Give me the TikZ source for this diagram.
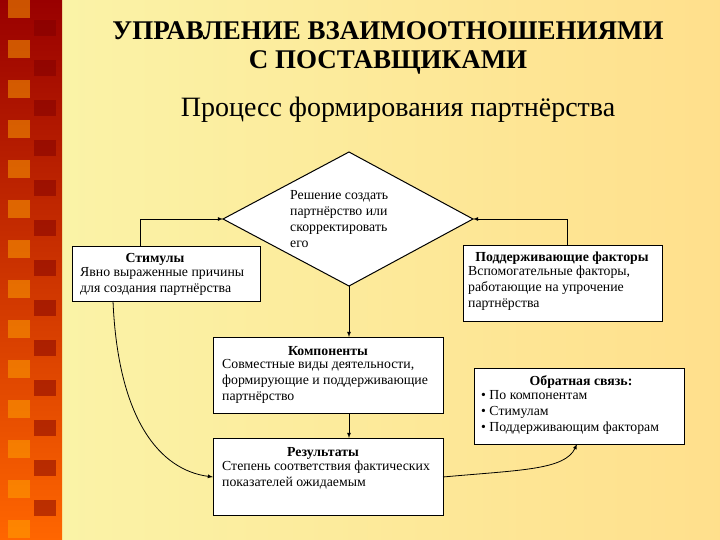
\documentclass[tikz,border=0pt]{standalone}
\usepackage{fontspec}
\setmainfont{Liberation Serif}
\begin{document}
\begin{tikzpicture}[x=1pt,y=-1pt,
  box/.style={draw=black,line width=1pt,fill=white},
  txt/.style={font=\fontsize{13.8}{16}\selectfont,align=left,inner sep=0},
  btxt/.style={font=\bfseries\fontsize{13.8}{16}\selectfont,inner sep=0},
  arr/.style={-{latex},line width=0.8pt}]
\useasboundingbox (0,0) rectangle (720,540);
\shade[left color=yellow!30!white!92!brown,right color=yellow!45!orange!45!white] (0,0) rectangle (720,540);
\shade[top color=red!60!black,bottom color=orange!80!red] (0,0) rectangle (62,540);
\foreach \y in {0,40,...,520}{\fill[orange!70!yellow,opacity=0.5] (8,\y) rectangle (30,\y+18);
 \fill[red!50!black,opacity=0.5] (34,\y+20) rectangle (56,\y+36);}
\node[font=\bfseries\fontsize{27}{30}\selectfont] (t1) at (388,31) {УПРАВЛЕНИЕ ВЗАИМООТНОШЕНИЯМИ};
\node[font=\bfseries\fontsize{27}{30}\selectfont] (t2) at (388,62) {С ПОСТАВЩИКАМИ};
\node[font=\fontsize{28}{32}\selectfont] (t3) at (398,110) {Процесс формирования партнёрства};
% diamond
\coordinate (dT) at (349,152); \coordinate (dL) at (223,219);
\coordinate (dR) at (473,219); \coordinate (dB) at (349,286);
\draw[box] (dT)--(dR)--(dB)--(dL)--cycle;
\node[txt,anchor=north west] (dtxt) at (290,190) {Решение создать\\партнёрство или\\скорректировать\\его};
% boxes
\draw[box] (72,246) rectangle (260,301); \coordinate (stTop) at (140,246); \coordinate (stBot) at (113,301);
\node[btxt] (st1) at (155,259) {Стимулы};
\node[txt,anchor=north west] (st2) at (80,267) {Явно выраженные причины\\для создания партнёрства};
\draw[box] (463,245) rectangle (662,321); \coordinate (spTop) at (567,245);
\node[btxt] (sp1) at (562,258) {Поддерживающие факторы};
\node[txt,anchor=north west] (sp2) at (468,266) {Вспомогательные факторы,\\работающие на упрочение\\партнёрства};
\draw[box] (213,337) rectangle (443,413); \coordinate (cT) at (349,337); \coordinate (cB) at (349,413);
\node[btxt] (c1) at (328,351) {Компоненты};
\node[txt,anchor=north west] (c2) at (222,359) {Совместные виды деятельности,\\формирующие и поддерживающие\\партнёрство};
\draw[box] (213,438) rectangle (443,515); \coordinate (rT) at (349,438);
\coordinate (rL) at (213,477); \coordinate (rR) at (443,477);
\node[btxt] (r1) at (323,453) {Результаты};
\node[txt,anchor=north west] (r2) at (222,461) {Степень соответствия фактических\\показателей ожидаемым};
\draw[box] (474,368) rectangle (684,444); \coordinate (fB) at (577,444);
\node[btxt] (f1) at (581,382) {Обратная связь:};
\node[txt,anchor=north west] (f2) at (481,390) {• По компонентам\\• Стимулам\\• Поддерживающим факторам};
% arrows
\draw[arr] (stTop) |- (dL);
\draw[arr] (spTop) |- (dR);
\draw[arr] (dB) -- (cT);
\draw[arr] (cB) -- (rT);
\draw[arr] (stBot) .. controls (118,420) and (160,470) .. (rL);
\draw[arr] (rR) .. controls (520,470) and (565,470) .. (fB);
\end{tikzpicture}
\end{document}
